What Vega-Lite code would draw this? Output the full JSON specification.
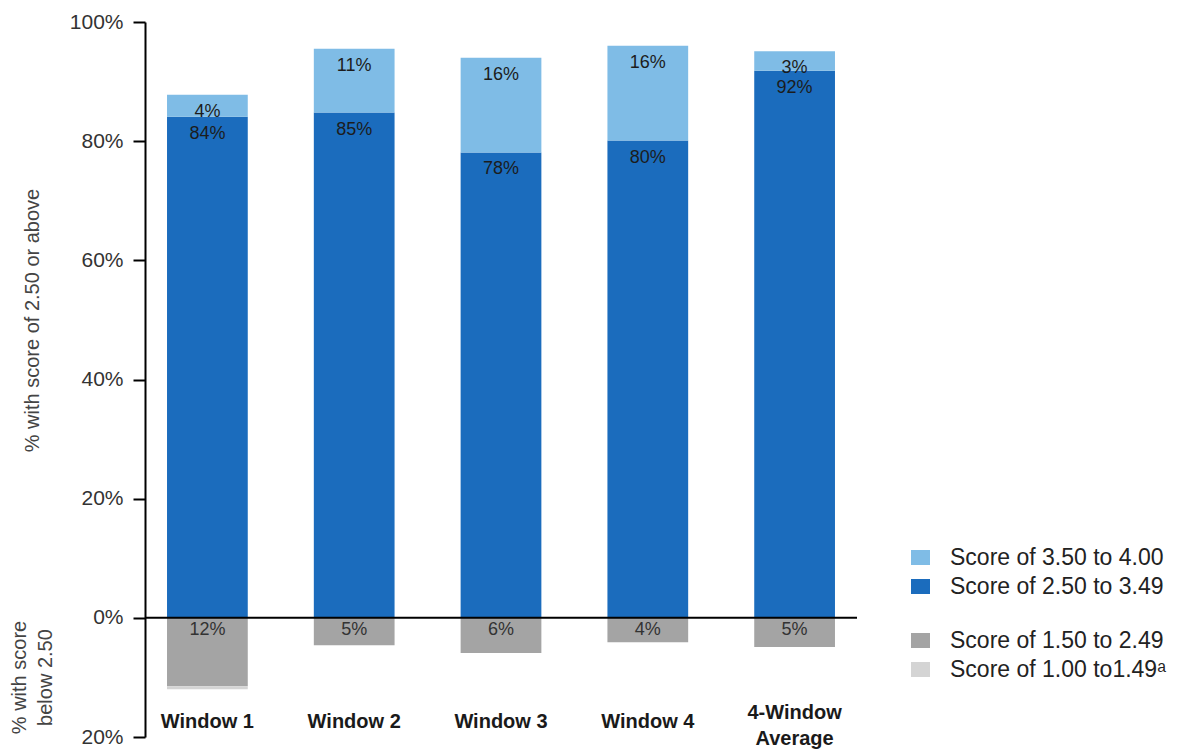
{
  "$schema": "https://vega.github.io/schema/vega-lite/v6.json",
  "width": 712,
  "height": 715,
  "autosize": {"type": "none"},
  "padding": {"left": 145, "top": 22, "right": 320, "bottom": 13},
  "background": "white",
  "config": {
    "view": {"stroke": null},
    "font": "Liberation Sans",
    "axis": {"labelFont": "Liberation Sans", "titleFont": "Liberation Sans"},
    "legend": {"labelFont": "Liberation Sans"}
  },
  "data": {
    "values": [
      {"w": "Window 1", "cat": "Score of 2.50 to 3.49", "grp": "pos", "ord": 1, "v": 84.1, "label": "84%"},
      {"w": "Window 1", "cat": "Score of 3.50 to 4.00", "grp": "pos", "ord": 2, "v": 3.7, "label": "4%"},
      {"w": "Window 1", "cat": "Score of 1.50 to 2.49", "grp": "neg", "ord": 1, "v": -11.5, "label": "12%"},
      {"w": "Window 1", "cat": "Score of 1.00 to1.49ᵃ", "grp": "neg", "ord": 2, "v": -0.5, "label": ""},
      {"w": "Window 2", "cat": "Score of 2.50 to 3.49", "grp": "pos", "ord": 1, "v": 84.8, "label": "85%"},
      {"w": "Window 2", "cat": "Score of 3.50 to 4.00", "grp": "pos", "ord": 2, "v": 10.7, "label": "11%"},
      {"w": "Window 2", "cat": "Score of 1.50 to 2.49", "grp": "neg", "ord": 1, "v": -4.6, "label": "5%"},
      {"w": "Window 3", "cat": "Score of 2.50 to 3.49", "grp": "pos", "ord": 1, "v": 78.1, "label": "78%"},
      {"w": "Window 3", "cat": "Score of 3.50 to 4.00", "grp": "pos", "ord": 2, "v": 15.9, "label": "16%"},
      {"w": "Window 3", "cat": "Score of 1.50 to 2.49", "grp": "neg", "ord": 1, "v": -5.9, "label": "6%"},
      {"w": "Window 4", "cat": "Score of 2.50 to 3.49", "grp": "pos", "ord": 1, "v": 80.1, "label": "80%"},
      {"w": "Window 4", "cat": "Score of 3.50 to 4.00", "grp": "pos", "ord": 2, "v": 15.9, "label": "16%"},
      {"w": "Window 4", "cat": "Score of 1.50 to 2.49", "grp": "neg", "ord": 1, "v": -4.1, "label": "4%"},
      {"w": "4-Window Average", "cat": "Score of 2.50 to 3.49", "grp": "pos", "ord": 1, "v": 91.8, "label": "92%"},
      {"w": "4-Window Average", "cat": "Score of 3.50 to 4.00", "grp": "pos", "ord": 2, "v": 3.3, "label": "3%"},
      {"w": "4-Window Average", "cat": "Score of 1.50 to 2.49", "grp": "neg", "ord": 1, "v": -4.9, "label": "5%"}
    ]
  },
  "transform": [
    {"stack": "v", "groupby": ["w"], "sort": [{"field": "ord", "order": "ascending"}], "as": ["v0", "v1"]}
  ],
  "encoding": {
    "x": {
      "field": "w",
      "type": "nominal",
      "sort": ["Window 1", "Window 2", "Window 3", "Window 4", "4-Window Average"],
      "scale": {"paddingInner": 0.45, "paddingOuter": 0.15},
      "axis": {
        "orient": "bottom",
        "title": null,
        "domain": false,
        "ticks": false,
        "labelAngle": 0,
        "offset": -16,
        "labelPadding": {"condition": {"test": "datum.value == '4-Window Average'", "value": -9}, "value": 0},
        "labelBaseline": "middle",
        "labelLineHeight": 26,
        "labelFontSize": 20,
        "labelFontWeight": "bold",
        "labelColor": "#1a1a1a",
        "labelLimit": 0,
        "labelExpr": "datum.label == '4-Window Average' ? ['4-Window', 'Average'] : datum.label"
      }
    }
  },
  "layer": [
    {
      "transform": [{"filter": "datum.grp == 'pos'"}],
      "mark": {"type": "bar"},
      "encoding": {
        "y": {
          "field": "v0",
          "type": "quantitative",
          "scale": {"domain": [-20, 100], "nice": false, "zero": false},
          "axis": {
            "values": [-20, 0, 20, 40, 60, 80, 100],
            "labelExpr": "abs(datum.value) + '%'",
            "grid": false,
            "domainColor": "black",
            "domainWidth": 2,
            "tickColor": "black",
            "tickWidth": 2,
            "tickSize": 12,
            "labelPadding": 10,
            "labelFontSize": 21,
            "labelColor": "#333333",
            "title": "% with score of 2.50 or above",
            "titleFontSize": 20,
            "titleFontWeight": "normal",
            "titleColor": "#444444",
            "titleX": -113,
            "titleY": 298,
            "titleAngle": -90,
            "titleAlign": "center",
            "titleBaseline": "middle"
          }
        },
        "y2": {"field": "v1"},
        "color": {
          "field": "cat",
          "type": "nominal",
          "scale": {"domain": ["Score of 3.50 to 4.00", "Score of 2.50 to 3.49"], "range": ["#7fbce6", "#1b6cbd"]},
          "legend": {
            "title": null,
            "orient": "none",
            "legendX": 764,
            "legendY": 524,
            "padding": 0,
            "labelFontSize": 23,
            "labelLimit": 0,
            "labelColor": "#222222",
            "labelOffset": 18,
            "rowPadding": 5,
            "symbolType": "M-1,-0.79H1V0.79H-1Z",
            "symbolSize": 361,
            "symbolStrokeWidth": 0,
            "symbolOpacity": 1
          }
        }
      }
    },
    {
      "transform": [{"filter": "datum.grp == 'neg'"}],
      "mark": {"type": "bar"},
      "encoding": {
        "y": {
          "field": "v0",
          "type": "quantitative",
          "axis": {
            "orient": "left",
            "domain": false,
            "ticks": false,
            "labels": false,
            "grid": false,
            "title": ["% with score", "below 2.50"],
            "titleFontSize": 20,
            "titleFontWeight": "normal",
            "titleColor": "#444444",
            "titleLineHeight": 26,
            "titleX": -126,
            "titleY": 655,
            "titleAngle": -90,
            "titleAlign": "center",
            "titleBaseline": "middle"
          }
        },
        "y2": {"field": "v1"},
        "color": {
          "field": "cat",
          "type": "nominal",
          "scale": {"domain": ["Score of 1.50 to 2.49", "Score of 1.00 to1.49ᵃ"], "range": ["#a4a4a4", "#d4d4d4"]},
          "legend": {
            "title": null,
            "orient": "none",
            "legendX": 764,
            "legendY": 607,
            "padding": 0,
            "labelFontSize": 23,
            "labelLimit": 0,
            "labelColor": "#222222",
            "labelOffset": 18,
            "rowPadding": 5,
            "symbolType": "M-1,-0.79H1V0.79H-1Z",
            "symbolSize": 361,
            "symbolStrokeWidth": 0,
            "symbolOpacity": 1
          }
        }
      }
    },
    {
      "transform": [{"filter": "datum.grp == 'pos'"}],
      "mark": {"type": "text", "baseline": "middle", "align": "center", "dy": 17, "fontSize": 18, "color": "#1c1c1c"},
      "encoding": {
        "y": {"field": "v1", "type": "quantitative", "axis": null},
        "text": {"field": "label"}
      }
    },
    {
      "transform": [{"filter": "datum.grp == 'neg' && datum.label != ''"}],
      "mark": {"type": "text", "baseline": "middle", "align": "center", "dy": 12, "fontSize": 18, "color": "#333333"},
      "encoding": {
        "y": {"field": "v0", "type": "quantitative", "axis": null},
        "text": {"field": "label"}
      }
    },
    {
      "data": {"values": [{"zero": 0}]},
      "mark": {"type": "rule", "color": "black", "strokeWidth": 2},
      "encoding": {
        "x": null,
        "y": {"field": "zero", "type": "quantitative", "axis": null}
      }
    }
  ],
  "resolve": {
    "scale": {"color": "independent"},
    "legend": {"color": "independent"},
    "axis": {"y": "independent"}
  }
}
